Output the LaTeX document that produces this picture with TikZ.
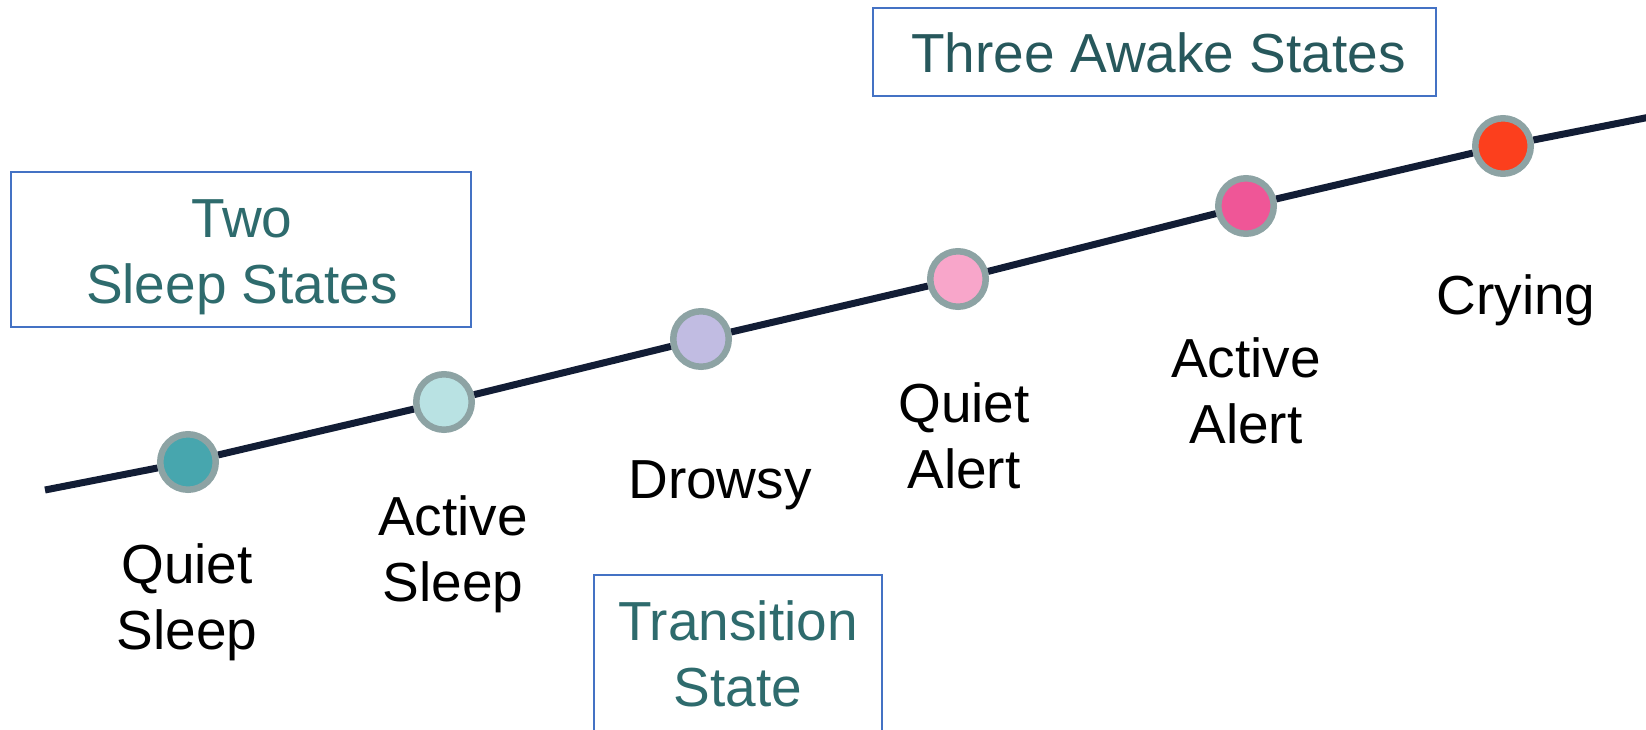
\documentclass[tikz,border=0pt]{standalone}
\usepackage{fontspec}
\setmainfont{Liberation Sans}
\definecolor{navy}{HTML}{121D35}
\definecolor{ringgray}{HTML}{8DA3A4}
\definecolor{boxblue}{HTML}{4472C4}
\definecolor{tealtext}{HTML}{2E6B6D}
\definecolor{darkteal}{HTML}{27585C}
\definecolor{qsfill}{HTML}{47A6AE}
\definecolor{asfill}{HTML}{B9E2E3}
\definecolor{drfill}{HTML}{C1BCE2}
\definecolor{qafill}{HTML}{F8A6CA}
\definecolor{aafill}{HTML}{EF5697}
\definecolor{crfill}{HTML}{FC3F1D}
\begin{document}
\begin{tikzpicture}[x=1pt,y=-1pt,
  dot/.style={circle,draw=ringgray,line width=6.5pt,minimum size=55.5pt,inner sep=0pt},
  lbl/.style={anchor=base,align=center,text=black,font=\fontsize{55}{66.5}\selectfont,inner sep=0pt},
  boxlbl/.style={anchor=base,align=center,text=tealtext,font=\fontsize{55}{66.5}\selectfont,inner sep=0pt},
  framebox/.style={draw=boxblue,line width=1.5pt,inner sep=0pt},
  timeline/.style={draw=navy,line width=7pt}]
\useasboundingbox (0,0) rectangle (1646,729);
% boxes
\node[framebox,minimum width=460pt,minimum height=155pt] (sleepbox) at (241,249.5) {};
\node[framebox,minimum width=563pt,minimum height=88pt] (awakebox) at (1154.5,52) {};
\node[framebox,minimum width=288pt,minimum height=160pt] (transbox) at (738,655) {};
\node[boxlbl] (sleeptxt) at (242,303.5) {Two\\Sleep States};
\node[boxlbl,text=darkteal] (awaketxt) at (1158.5,72) {Three Awake States};
\node[boxlbl] (transtxt) at (738,706.5) {Transition\\State};
% dots
\coordinate (start) at (45,490);
\coordinate (finish) at (1650,117);
\node[dot,fill=qsfill] (qs) at (188,462) {};
\node[dot,fill=asfill] (as) at (444,402) {};
\node[dot,fill=drfill] (dr) at (701,339) {};
\node[dot,fill=qafill] (qa) at (958,279) {};
\node[dot,fill=aafill] (aa) at (1246,206) {};
\node[dot,fill=crfill] (cr) at (1503,146) {};
\draw[timeline] (start) -- (qs) -- (as) -- (dr) -- (qa) -- (aa) -- (cr) -- (finish);
% labels
\node[lbl] (qsl) at (187,649.5) {Quiet\\Sleep};
\node[lbl] (asl) at (453,601.5) {Active\\Sleep};
\node[lbl] (drl) at (720,498) {Drowsy};
\node[lbl] (qal) at (964,488.5) {Quiet\\Alert};
\node[lbl] (aal) at (1246,443.5) {Active\\Alert};
\node[lbl] (crl) at (1516,314) {Crying};
\end{tikzpicture}
\end{document}
